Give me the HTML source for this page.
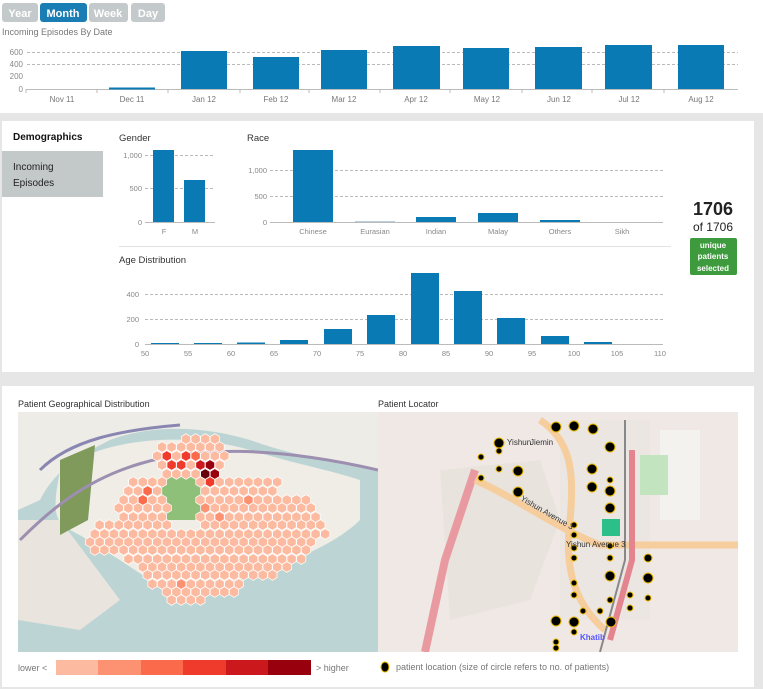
<!DOCTYPE html>
<html><head><meta charset="utf-8"><style>
body{margin:0;width:763px;height:689px;background:#e6e6e6;font-family:"Liberation Sans",sans-serif;overflow:hidden;position:relative}
svg text{font-family:"Liberation Sans",sans-serif}
</style></head><body>
<svg width="763" height="689" style="position:absolute;left:0;top:0">
<rect x="0" y="0" width="763" height="113" fill="#fff"/>
<g font-size="11" font-weight="bold" fill="#fff" text-anchor="middle">
<rect x="2" y="3" width="36" height="19" rx="3" fill="#c4c9cb"/><text x="20" y="17">Year</text>
<rect x="40" y="3" width="47" height="19" rx="3" fill="#1a7db4"/><text x="63" y="17">Month</text>
<rect x="89" y="3" width="39" height="19" rx="3" fill="#c4c9cb"/><text x="108" y="17">Week</text>
<rect x="131" y="3" width="34" height="19" rx="3" fill="#c4c9cb"/><text x="148" y="17">Day</text>
</g>
<text x="2" y="35" font-size="9" fill="#777">Incoming Episodes By Date</text>
<g stroke="#bbb" stroke-dasharray="3,2" stroke-width="1"><line x1="27" y1="52.5" x2="738" y2="52.5"/><line x1="27" y1="64.5" x2="738" y2="64.5"/></g>
<g font-size="8" fill="#888" text-anchor="end"><text x="23" y="55">600</text><text x="23" y="67">400</text><text x="23" y="79">200</text><text x="23" y="92">0</text></g>
<line x1="26" y1="89.5" x2="738" y2="89.5" stroke="#bbb"/>
<g stroke="#bbb"><line x1="26" y1="89" x2="26" y2="93"/><line x1="97" y1="89" x2="97" y2="93"/><line x1="168" y1="89" x2="168" y2="93"/><line x1="240" y1="89" x2="240" y2="93"/><line x1="309" y1="89" x2="309" y2="93"/><line x1="380" y1="89" x2="380" y2="93"/><line x1="450" y1="89" x2="450" y2="93"/><line x1="522" y1="89" x2="522" y2="93"/><line x1="592" y1="89" x2="592" y2="93"/><line x1="664" y1="89" x2="664" y2="93"/></g>
<g fill="#0a7ab5">
<rect x="109" y="87.5" width="46" height="2"/>
<rect x="181" y="51" width="46" height="38"/>
<rect x="253" y="57" width="46" height="32"/>
<rect x="321" y="50" width="46" height="39"/>
<rect x="393" y="46" width="47" height="43"/>
<rect x="463" y="48" width="46" height="41"/>
<rect x="535" y="47" width="47" height="42"/>
<rect x="605" y="45" width="47" height="44"/>
<rect x="678" y="45" width="46" height="44"/>
</g>
<g font-size="8" fill="#777" text-anchor="middle"><text x="62" y="102">Nov 11</text><text x="132" y="102">Dec 11</text><text x="204" y="102">Jan 12</text><text x="276" y="102">Feb 12</text><text x="344" y="102">Mar 12</text><text x="416" y="102">Apr 12</text><text x="487" y="102">May 12</text><text x="559" y="102">Jun 12</text><text x="629" y="102">Jul 12</text><text x="701" y="102">Aug 12</text></g>

<rect x="2" y="121" width="752" height="251" fill="#fff"/>
<text x="13" y="140" font-size="10" font-weight="bold" fill="#111">Demographics</text>
<rect x="2" y="151" width="101" height="46" fill="#c3c8c9"/>
<text x="13" y="170" font-size="10" fill="#222">Incoming</text><text x="13" y="186" font-size="10" fill="#222">Episodes</text>
<g font-size="9.5" fill="#333"><text x="119" y="141">Gender</text><text x="247" y="141">Race</text><text x="119" y="263">Age Distribution</text></g>
<g stroke="#bbb" stroke-dasharray="3,2"><line x1="145" y1="155.5" x2="215" y2="155.5"/><line x1="145" y1="188.5" x2="215" y2="188.5"/>
<line x1="270" y1="170.5" x2="663" y2="170.5"/><line x1="270" y1="196.5" x2="663" y2="196.5"/>
<line x1="145" y1="294.5" x2="663" y2="294.5"/><line x1="145" y1="319.5" x2="663" y2="319.5"/></g>
<g font-size="7.5" fill="#888" text-anchor="end"><text x="142" y="158">1,000</text><text x="142" y="191">500</text><text x="142" y="225">0</text>
<text x="267" y="173">1,000</text><text x="267" y="199">500</text><text x="267" y="225">0</text>
<text x="139" y="297">400</text><text x="139" y="322">200</text><text x="139" y="347">0</text></g>
<g fill="#0a7ab5"><rect x="153" y="150" width="21" height="72"/><rect x="184" y="180" width="21" height="42"/>
<rect x="293" y="150" width="40" height="72"/><rect x="355" y="221" width="40" height="1" fill="#bcd"/><rect x="416" y="217" width="40" height="5"/><rect x="478" y="213" width="40" height="9"/><rect x="540" y="220" width="40" height="2"/></g>
<g stroke="#bbb"><line x1="145" y1="222.5" x2="215" y2="222.5"/><line x1="270" y1="222.5" x2="663" y2="222.5"/></g>
<g font-size="7.5" fill="#888" text-anchor="middle"><text x="164" y="234">F</text><text x="195" y="234">M</text><text x="313" y="234">Chinese</text><text x="375" y="234">Eurasian</text><text x="436" y="234">Indian</text><text x="498" y="234">Malay</text><text x="560" y="234">Others</text><text x="622" y="234">Sikh</text></g>
<line x1="119" y1="246.5" x2="671" y2="246.5" stroke="#e2e2e2"/>
<g fill="#0a7ab5">
<rect x="151" y="343" width="28" height="1"/><rect x="194" y="343" width="28" height="1"/><rect x="237" y="342.5" width="28" height="1.5"/><rect x="280" y="340" width="28" height="4"/>
<rect x="324" y="329" width="28" height="15"/><rect x="367" y="315" width="28" height="29"/><rect x="411" y="273" width="28" height="71"/><rect x="454" y="291" width="28" height="53"/><rect x="497" y="318" width="28" height="26"/><rect x="541" y="336" width="28" height="8"/><rect x="584" y="342" width="28" height="2"/></g>
<line x1="145" y1="344.5" x2="663" y2="344.5" stroke="#bbb"/>
<g font-size="7.5" fill="#888" text-anchor="middle"><text x="145" y="356">50</text><text x="188" y="356">55</text><text x="231" y="356">60</text><text x="274" y="356">65</text><text x="317" y="356">70</text><text x="360" y="356">75</text><text x="403" y="356">80</text><text x="446" y="356">85</text><text x="489" y="356">90</text><text x="532" y="356">95</text><text x="574" y="356">100</text><text x="617" y="356">105</text><text x="660" y="356">110</text></g>
<text x="713" y="215" font-size="18" font-weight="bold" fill="#222" text-anchor="middle">1706</text>
<text x="713" y="231" font-size="12" fill="#222" text-anchor="middle">of 1706</text>
<rect x="690" y="238" width="47" height="37" rx="2" fill="#3d9a3d"/>
<g font-size="8" font-weight="bold" fill="#fff" text-anchor="middle"><text x="713" y="248">unique</text><text x="713" y="259">patients</text><text x="713" y="271">selected</text></g>

<rect x="2" y="386" width="752" height="301" fill="#fff"/>
<g font-size="9" fill="#333"><text x="18" y="407">Patient Geographical Distribution</text><text x="378" y="407">Patient Locator</text></g>
<clipPath id="lm"><rect x="18" y="412" width="360" height="240"/></clipPath>
<g clip-path="url(#lm)">
<rect x="18" y="412" width="360" height="240" fill="#bcd5d4"/>
<path d="M18 412 H378 V470 C340 462 300 458 250 440 C200 425 150 425 110 440 C80 455 55 470 40 500 L18 510Z" fill="#eeece6"/>
<path d="M60 470 C100 440 180 430 250 450 C300 465 330 470 360 480 L360 520 C340 540 300 560 260 570 C220 590 170 590 150 580 C120 560 90 540 70 530 C50 520 55 500 60 470Z" fill="#efede6"/>
<path d="M18 520 L60 520 L90 560 L120 600 L80 630 L18 620Z" fill="#e9e4dd"/>
<path d="M60 460 L95 445 L88 520 L60 535 Z" fill="#7f9a5a"/>
<path d="M160 480 L200 470 L205 520 L165 520Z" fill="#8fc07a"/>
<path d="M20 540 C80 480 160 420 378 470" fill="none" stroke="#9d8fb0" stroke-width="3"/>
<path d="M40 470 C70 440 120 430 180 425" fill="none" stroke="#8a86b2" stroke-width="3"/>
<g id="hex"></g>
</g>
<clipPath id="rm"><rect x="378" y="412" width="360" height="240"/></clipPath>
<g clip-path="url(#rm)">
<rect x="378" y="412" width="360" height="240" fill="#f0e8e5"/>
<path d="M440 470 L540 460 L560 520 L530 600 L450 620 Z" fill="#e8e3dc"/>
<rect x="560" y="420" width="90" height="200" fill="#ebe6e2"/>
<path d="M660 430 L700 430 L700 520 L660 520Z" fill="#f4f2ef"/>
<path d="M475 470 L445 560 L425 652" fill="none" stroke="#e89aa0" stroke-width="8"/>
<path d="M475 480 C520 500 560 530 600 545 L738 545" fill="none" stroke="#f6cd9c" stroke-width="7"/>
<path d="M540 420 C570 440 575 470 570 520 C565 560 570 600 605 630" fill="none" stroke="#f6cd9c" stroke-width="7"/>
<path d="M632 450 L632 560 L610 640" fill="none" stroke="#e4848f" stroke-width="6"/>
<path d="M625 420 L625 560 L600 652" fill="none" stroke="#888" stroke-width="2"/>
<rect x="602" y="519" width="18" height="17" fill="#2dbf8a"/>
<rect x="640" y="455" width="28" height="40" fill="#c2e5bf"/>
<g fill="#000" stroke="#e8b800" stroke-width="1">
<circle cx="556" cy="427" r="5"/><circle cx="574" cy="426" r="5"/><circle cx="593" cy="429" r="5"/><circle cx="499" cy="443" r="5"/><circle cx="499" cy="451" r="3"/><circle cx="481" cy="457" r="3"/><circle cx="499" cy="469" r="3"/><circle cx="518" cy="471" r="5"/><circle cx="481" cy="478" r="3"/><circle cx="518" cy="492" r="5"/><circle cx="592" cy="469" r="5"/><circle cx="610" cy="447" r="5"/><circle cx="592" cy="487" r="5"/><circle cx="610" cy="480" r="3"/><circle cx="610" cy="491" r="5"/><circle cx="610" cy="508" r="5"/><circle cx="574" cy="525" r="3"/><circle cx="574" cy="535" r="3"/><circle cx="574" cy="548" r="3"/><circle cx="610" cy="546" r="3"/><circle cx="574" cy="558" r="3"/><circle cx="610" cy="558" r="3"/><circle cx="648" cy="558" r="4"/><circle cx="610" cy="576" r="5"/><circle cx="648" cy="578" r="5"/><circle cx="574" cy="583" r="3"/><circle cx="574" cy="595" r="3"/><circle cx="630" cy="595" r="3"/><circle cx="648" cy="598" r="3"/><circle cx="610" cy="600" r="3"/><circle cx="583" cy="611" r="3"/><circle cx="600" cy="611" r="3"/><circle cx="630" cy="608" r="3"/><circle cx="556" cy="621" r="5"/><circle cx="574" cy="622" r="5"/><circle cx="611" cy="622" r="5"/><circle cx="574" cy="632" r="3"/><circle cx="556" cy="642" r="3"/><circle cx="556" cy="648" r="3"/>
</g>
<g font-size="8" fill="#333"><text x="507" y="445">Yishun</text><text x="530" y="445">Jiemin</text><text x="520" y="500" transform="rotate(30 520 500)">Yishun Avenue 3</text><text x="566" y="547">Yishun Avenue 3</text><text x="580" y="640" fill="#55f" font-weight="bold">Khatib</text></g>
</g>
<text x="18" y="671" font-size="9" fill="#777">lower &lt;</text>
<rect x="56" y="660" width="43" height="15" fill="#fcbba1"/><rect x="98" y="660" width="43" height="15" fill="#fc9272"/><rect x="141" y="660" width="43" height="15" fill="#fb6a4a"/><rect x="183" y="660" width="43" height="15" fill="#ef3b2c"/><rect x="226" y="660" width="43" height="15" fill="#cb181d"/><rect x="268" y="660" width="43" height="15" fill="#99000d"/>
<text x="316" y="671" font-size="9" fill="#777">&gt; higher</text>
<ellipse cx="385" cy="667" rx="4" ry="5" fill="#000" stroke="#e8b800"/>
<text x="396" y="670" font-size="9" fill="#777">patient location (size of circle refers to no. of patients)</text>
</svg>
<script>
var rows=[[27,160,200],[35,135,205],[44,135,210],[53,135,210],[62,140,205],[70,115,145],[70,180,260],[79,110,145],[79,180,260],[88,105,145],[88,180,290],[96,100,150],[96,180,300],[105,100,150],[105,180,305],[113,75,150],[113,180,305],[122,70,310],[130,70,300],[138,70,290],[147,105,290],[155,120,270],[163,125,260],[172,130,225],[180,140,220],[188,145,190]];
var dark={"190,53":"#99000d","185,62":"#67000d","195,62":"#99000d","180,53":"#cb181d","145,44":"#ef3b2c","165,44":"#ef3b2c","150,53":"#ef3b2c","160,53":"#ef3b2c","195,70":"#ef3b2c","180,44":"#fb6a4a","125,79":"#fb6a4a","125,88":"#fb6a4a","190,96":"#fc9272","200,105":"#fc9272","230,88":"#fc9272","160,172":"#fc9272"};
var s="",w=9.6;
rows.forEach(function(r,i){var y=r[0],off=(Math.round(y/8.5)%2)?w/2:0;
for(var x=Math.ceil((r[1]-off)/w)*w+off;x<=r[2];x+=w){var col="#fcbba1";
for(var k in dark){var p=k.split(",");if(Math.abs(p[0]-x)<5&&Math.abs(p[1]-y)<4)col=dark[k];}
var cx=x+18,cy=y+412,R=5.3,pts=[];for(var a=0;a<6;a++){var t=Math.PI/3*a+Math.PI/6;pts.push((cx+R*Math.cos(t)).toFixed(1)+","+(cy+R*Math.sin(t)).toFixed(1));}
s+='<polygon points="'+pts.join(" ")+'" fill="'+col+'" stroke="#fff" stroke-width="0.7"/>';}});
document.getElementById("hex").innerHTML=s;
</script>
</body></html>
